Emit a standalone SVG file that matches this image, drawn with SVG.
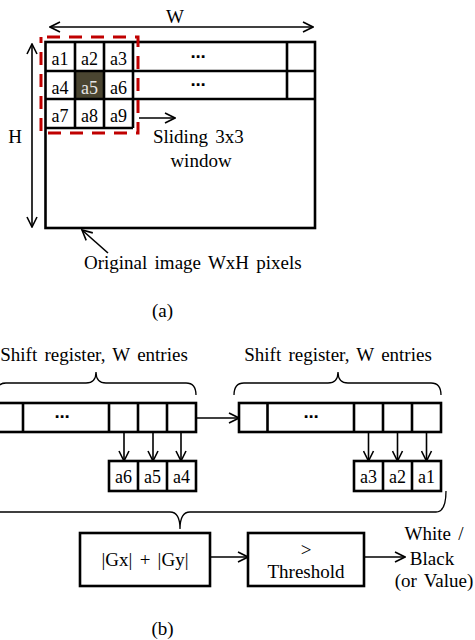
<svg xmlns="http://www.w3.org/2000/svg" width="475" height="640" viewBox="0 0 475 640">
<style>
text{font-family:"Liberation Serif","Times New Roman",serif;fill:#000}
.t{font-size:19px;word-spacing:2.5px}
.c{font-size:18px;text-anchor:middle}
.m{text-anchor:middle}
.box{fill:#fff;stroke:#000;stroke-width:2.6}
.ln{stroke:#000;stroke-width:2.6;fill:none}
.ar{stroke:#000;stroke-width:1.6;fill:none;marker-end:url(#ah)}
.br{stroke:#000;stroke-width:1.3;fill:none}
.dots{font-family:"DejaVu Sans",sans-serif;font-size:15px;text-anchor:middle;font-weight:bold}
</style>
<defs>
<marker id="ah" viewBox="0 0 12 12" refX="11" refY="6" markerWidth="12" markerHeight="12" markerUnits="userSpaceOnUse" orient="auto-start-reverse">
<path d="M1 1 L11 6 L1 11" fill="none" stroke="#000" stroke-width="1.6"/>
</marker>
</defs>

<g id="image">
<rect class="box" x="45.5" y="42" width="269.5" height="186"/>
<rect x="75" y="71" width="29" height="28" fill="#4a4531"/>
<path class="ln" d="M45.5 71H315M45.5 99H315M45.5 128H133M75 42V128M104 42V128M133 42V128M287 42V99"/>
<text class="c" x="60" y="65">a1</text>
<text class="c" x="89.5" y="65">a2</text>
<text class="c" x="118.5" y="65">a3</text>
<text class="c" x="60" y="93.5">a4</text>
<text class="c" x="89.5" y="93.5" style="fill:#e6e6e6">a5</text>
<text class="c" x="118.5" y="93.5">a6</text>
<text class="c" x="60" y="122">a7</text>
<text class="c" x="89.5" y="122">a8</text>
<text class="c" x="118.5" y="122">a9</text>
<text class="dots" x="198" y="62">⋯</text>
<text class="dots" x="198" y="90">⋯</text>
</g>
<g id="window">
<rect x="41" y="37" width="97" height="96" fill="none" stroke="#c00000" stroke-width="3" stroke-dasharray="13 9" stroke-dashoffset="-6"/>
</g>
<g id="labels-a">
<text class="t m" x="175" y="23">W</text>
<text class="t m" x="15" y="143">H</text>
<text class="t" x="153" y="143">Sliding 3x3</text>
<text class="t m" x="201" y="167">window</text>
<text class="t" x="84" y="269">Original image WxH pixels</text>
<text class="t m" x="162.5" y="317">(a)</text>
</g>

<g id="reg1">
<rect class="box" x="-5" y="403" width="201" height="29"/>
<path class="ln" d="M23 403V432M109 403V432M138 403V432M167 403V432"/>
<text class="dots" x="62" y="422">⋯</text>
</g>
<g id="reg2">
<rect class="box" x="239" y="403" width="202" height="29"/>
<path class="ln" d="M267.5 403V432M354 403V432M383 403V432M412 403V432"/>
<text class="dots" x="311" y="422">⋯</text>
</g>
<g id="out1">
<rect class="box" x="109" y="461" width="87" height="30"/>
<path class="ln" d="M138 461V491M167 461V491"/>
<text class="c" x="123.5" y="483">a6</text>
<text class="c" x="152.5" y="483">a5</text>
<text class="c" x="181.5" y="483">a4</text>
</g>
<g id="out2">
<rect class="box" x="354" y="461" width="87" height="30"/>
<path class="ln" d="M383 461V491M412 461V491"/>
<text class="c" x="368.5" y="483">a3</text>
<text class="c" x="397.5" y="483">a2</text>
<text class="c" x="426.5" y="483">a1</text>
</g>
<g id="gradient">
<rect class="box" x="80" y="533" width="130" height="53"/>
<text class="t m" x="145" y="566">|Gx| + |Gy|</text>
</g>
<g id="threshold">
<rect class="box" x="248" y="533" width="116" height="53"/>
<text class="t m" x="306" y="556">&gt;</text>
<text class="t m" x="306" y="578">Threshold</text>
</g>
<g id="labels-b">
<text class="t m" x="94" y="361">Shift register, W entries</text>
<text class="t m" x="338" y="361">Shift register, W entries</text>
<text class="t m" x="434" y="540">White /</text>
<text class="t m" x="432" y="565">Black</text>
<text class="t m" x="434" y="587">(or Value)</text>
<text class="t m" x="162.5" y="635">(b)</text>
</g>

<g id="connectors">
<path class="ar" d="M50 27H313" marker-start="url(#ah)"/>
<path class="ar" d="M32 44V227" marker-start="url(#ah)"/>
<path class="ar" d="M139 118H175"/>
<path class="ar" d="M108 253L82 230"/>
<path class="br" d="M-4 395Q-4 383 6 383H86Q96 383 96 372Q96 383 106 383H186Q196 383 196 395"/>
<path class="br" d="M234 395Q234 383 244 383H328Q338 383 338 372Q338 383 348 383H431Q441 383 441 395"/>
<path class="br" d="M-86 491Q-86 512 -76 512H170Q180 512 180 529Q180 512 190 512H436Q446 512 446 491"/>
<path class="ar" d="M196 418H239"/>
<path class="ar" d="M124 432V461"/>
<path class="ar" d="M153 432V461"/>
<path class="ar" d="M181 432V461"/>
<path class="ar" d="M368.5 432V461"/>
<path class="ar" d="M397.5 432V461"/>
<path class="ar" d="M426.5 432V461"/>
<path class="ar" d="M210 557H248"/>
<path class="ar" d="M364 557H405"/>
</g>
</svg>
